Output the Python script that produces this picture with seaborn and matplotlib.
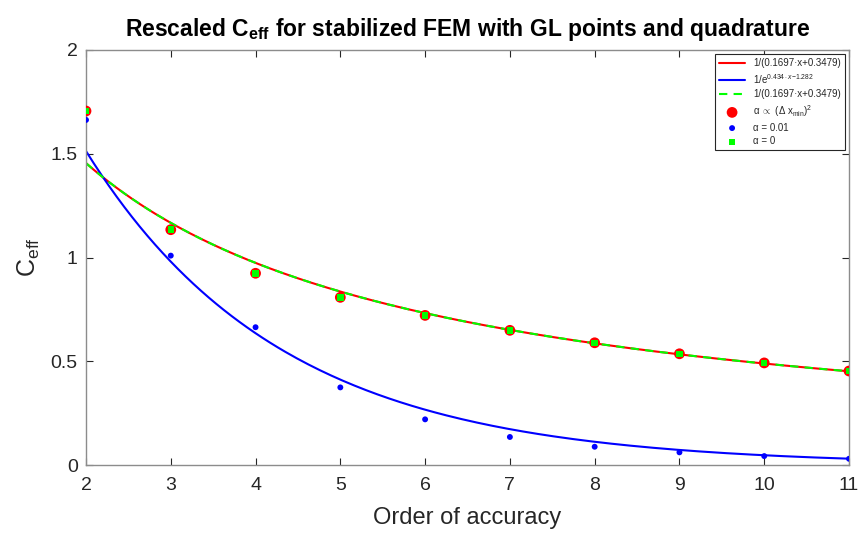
import numpy as np
import pandas as pd
import matplotlib
matplotlib.use("Agg")
import matplotlib.pyplot as plt
import seaborn as sns

# Data
orders = [2, 3, 4, 5, 6, 7, 8, 9, 10, 11]
c_scaled = [1.706, 1.134, 0.924, 0.808, 0.721, 0.649, 0.589, 0.536, 0.492, 0.453]
c_alpha001 = [1.663, 1.009, 0.664, 0.374, 0.220, 0.135, 0.088, 0.061, 0.043, 0.030]
c_alpha0 = [1.706, 1.134, 0.924, 0.808, 0.721, 0.649, 0.589, 0.536, 0.492, 0.453]

# Fit parameters shown in the legend
rat_a, rat_b = 0.1697, 0.3479
exp_a, exp_b = 0.434, -1.282

sns.set_theme(style="white")
plt.rcParams['font.family'] = ['Liberation Sans', 'DejaVu Sans']
plt.rcParams['mathtext.fontset'] = 'custom'
plt.rcParams['mathtext.rm'] = 'Liberation Sans'
plt.rcParams['mathtext.it'] = 'Liberation Sans:italic'
plt.rcParams['mathtext.bf'] = 'Liberation Sans:bold'
plt.rcParams['mathtext.sf'] = 'Liberation Sans'

fig = plt.figure(figsize=(8.61, 5.34), dpi=100)
ax = fig.add_axes([86/861, 1-465/534, (849-86)/861, (465-50)/534])

xf = np.linspace(2, 11, 200)
fit = pd.DataFrame({
    'x': xf,
    'rat': 1.0/(rat_a*xf + rat_b),
    'exp': 1.0/np.exp(exp_a*xf + exp_b),
})
pts = pd.DataFrame({'x': orders, 'scaled': c_scaled, 'a001': c_alpha001, 'a0': c_alpha0})

sns.lineplot(data=fit, x='x', y='rat', color='#ff0000', lw=1.5, ax=ax,
             label='1/(0.1697·x+0.3479)')
sns.lineplot(data=fit, x='x', y='exp', color='#0000ff', lw=1.5, ax=ax,
             label='1/e$^{0.434\\cdot x\\mathrm{-}1.282}$')
sns.lineplot(data=fit, x='x', y='rat', color='#00ff00', lw=1.5, ax=ax,
             linestyle=(0, (4, 3)), label='1/(0.1697·x+0.3479)')
sns.scatterplot(data=pts, x='x', y='scaled', color='#ff0000', s=60, marker='o',
                edgecolor='none', ax=ax, label='α $\\propto$ (Δ x$_{\\rm min}$)$^2$', zorder=5)
sns.scatterplot(data=pts, x='x', y='a001', color='#0000ff', s=18, marker='o',
                edgecolor='none', ax=ax, label='α = 0.01', zorder=5)
sns.scatterplot(data=pts, x='x', y='a0', color='#00ff00', s=22, marker='s',
                edgecolor='none', ax=ax, label='α = 0', zorder=6)

ax.set_xlim(2, 11)
ax.set_ylim(0, 2)
ax.set_xticks(orders)
ax.set_yticks([0, 0.5, 1, 1.5, 2])
ax.set_yticklabels(['0', '0.5', '1', '1.5', '2'])
for s in ax.spines.values():
    s.set_visible(True)
    s.set_color('#8c8c8c')
    s.set_linewidth(1.0)
ax.tick_params(direction='in', length=5, width=0.8, colors='#262626',
               labelsize=14, top=True, right=True, bottom=True, left=True,
               labelcolor='#262626')
ax.tick_params(axis='x', pad=9)
ax.tick_params(axis='y', pad=6)
ax.set_xlabel('Order of accuracy', fontsize=17, color='#262626', labelpad=9)
ax.set_ylabel('C$_{\\rm eff}$', fontsize=18, color='#262626', labelpad=6)
ax.set_title('Rescaled C$_{\\bf eff}$ for stabilized FEM with GL points and quadrature',
             fontsize=16.5, fontweight='bold', color='black', pad=10)

leg = ax.legend(loc='upper right', fontsize=7, frameon=True, fancybox=False,
                edgecolor='#262626', framealpha=1, borderpad=0.4, labelspacing=0.38,
                handlelength=2.7, borderaxespad=0.45)
leg.get_frame().set_linewidth(0.8)

fig.savefig('out.png', dpi=100)
